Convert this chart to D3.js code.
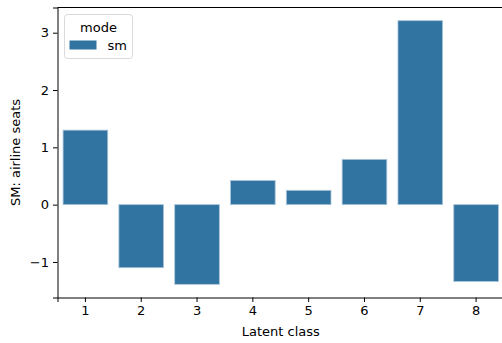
<!DOCTYPE html>
<html>
<head>
<meta charset="utf-8">
<script src="https://cdn.jsdelivr.net/npm/d3@7"></script>
<style>
  body { margin: 0; background: #fff; }
  text { font-family: "DejaVu Sans", sans-serif; fill: #000; }
</style>
</head>
<body>
<div id="chart"></div>
<script>
// chart data
let classes = ["1", "2", "3", "4", "5", "6", "7", "8"];
let smValues = [1.30, -1.10, -1.39, 0.42, 0.25, 0.79, 3.21, -1.34];
let yTicks = [-1, 0, 1, 2, 3];
let seriesName = "sm";

let svgWidth = 502;
let svgHeight = 343;

let margin = { top: 7.5, right: -2, bottom: 45, left: 57.5 };
let width = svgWidth - margin.left - margin.right;
let height = svgHeight - margin.top - margin.bottom - 0.5;
let fontSize = "13px";

let svg = d3.select("#chart")
  .append("svg")
  .attr("width", svgWidth)
  .attr("height", svgHeight);

let chartGroup = svg.append("g")
  .attr("transform", `translate(${margin.left}, ${margin.top})`);

// scales
let xScale = d3.scaleBand()
  .domain(classes)
  .range([0, width])
  .paddingInner(0.2)
  .paddingOuter(0.1);

let yMin = d3.min(smValues), yMax = d3.max(smValues);
let pad = (yMax - yMin) * 0.05;
let yScale = d3.scaleLinear()
  .domain([yMin - pad, yMax + pad])
  .range([height, 0]);

let barColor = "#3274a1";

// bars
chartGroup.selectAll("rect.bar")
  .data(smValues)
  .enter()
  .append("rect")
  .attr("class", "bar")
  .attr("x", (d, i) => xScale(classes[i]))
  .attr("width", xScale.bandwidth())
  .attr("y", d => yScale(Math.max(0, d)))
  .attr("height", d => Math.abs(yScale(d) - yScale(0)))
  .attr("fill", barColor)
  .attr("stroke", "#a9c4d9")
  .attr("stroke-width", 0.8);

// axes
let bottomAxis = d3.axisBottom(xScale).tickSizeOuter(0).tickSize(4.5).tickPadding(4);
let leftAxis = d3.axisLeft(yScale).tickValues(yTicks).tickSizeOuter(0).tickSize(4.5).tickPadding(4)
  .tickFormat(d => d < 0 ? "\u2212" + Math.abs(d) : d);

let xAxis = chartGroup.append("g")
  .attr("transform", `translate(0, ${height})`)
  .call(bottomAxis);

let yAxis = chartGroup.append("g")
  .call(leftAxis);

[xAxis, yAxis].forEach(ax => {
  ax.selectAll("text").style("font-size", fontSize).attr("fill", "#000");
  ax.selectAll("line").attr("stroke", "#000").attr("stroke-width", 1);
  ax.select(".domain").attr("stroke", "#000").attr("stroke-width", 1);
});

// top spine
chartGroup.append("line")
  .attr("x1", 0).attr("x2", width)
  .attr("y1", 0).attr("y2", 0)
  .attr("stroke", "#000");

// axis labels
chartGroup.append("text")
  .attr("x", width / 2)
  .attr("y", height + 38)
  .attr("text-anchor", "middle")
  .style("font-size", fontSize)
  .text("Latent class");

chartGroup.append("text")
  .attr("transform", "rotate(-90)")
  .attr("x", -height / 2)
  .attr("y", -38)
  .attr("text-anchor", "middle")
  .style("font-size", fontSize)
  .text("SM: airline seats");

// legend
let legend = chartGroup.append("g")
  .attr("transform", "translate(7, 7)");

legend.append("rect")
  .attr("width", 68)
  .attr("height", 44)
  .attr("rx", 3)
  .attr("fill", "#fff")
  .attr("fill-opacity", 0.8)
  .attr("stroke", "#d9d9d9");

legend.append("text")
  .attr("x", 34)
  .attr("y", 17)
  .attr("text-anchor", "middle")
  .style("font-size", fontSize)
  .text("mode");

legend.append("rect")
  .attr("x", 5)
  .attr("y", 26)
  .attr("width", 27)
  .attr("height", 9)
  .attr("fill", barColor);

legend.append("text")
  .attr("x", 43)
  .attr("y", 35.5)
  .style("font-size", fontSize)
  .text(seriesName);
</script>
</body>
</html>
